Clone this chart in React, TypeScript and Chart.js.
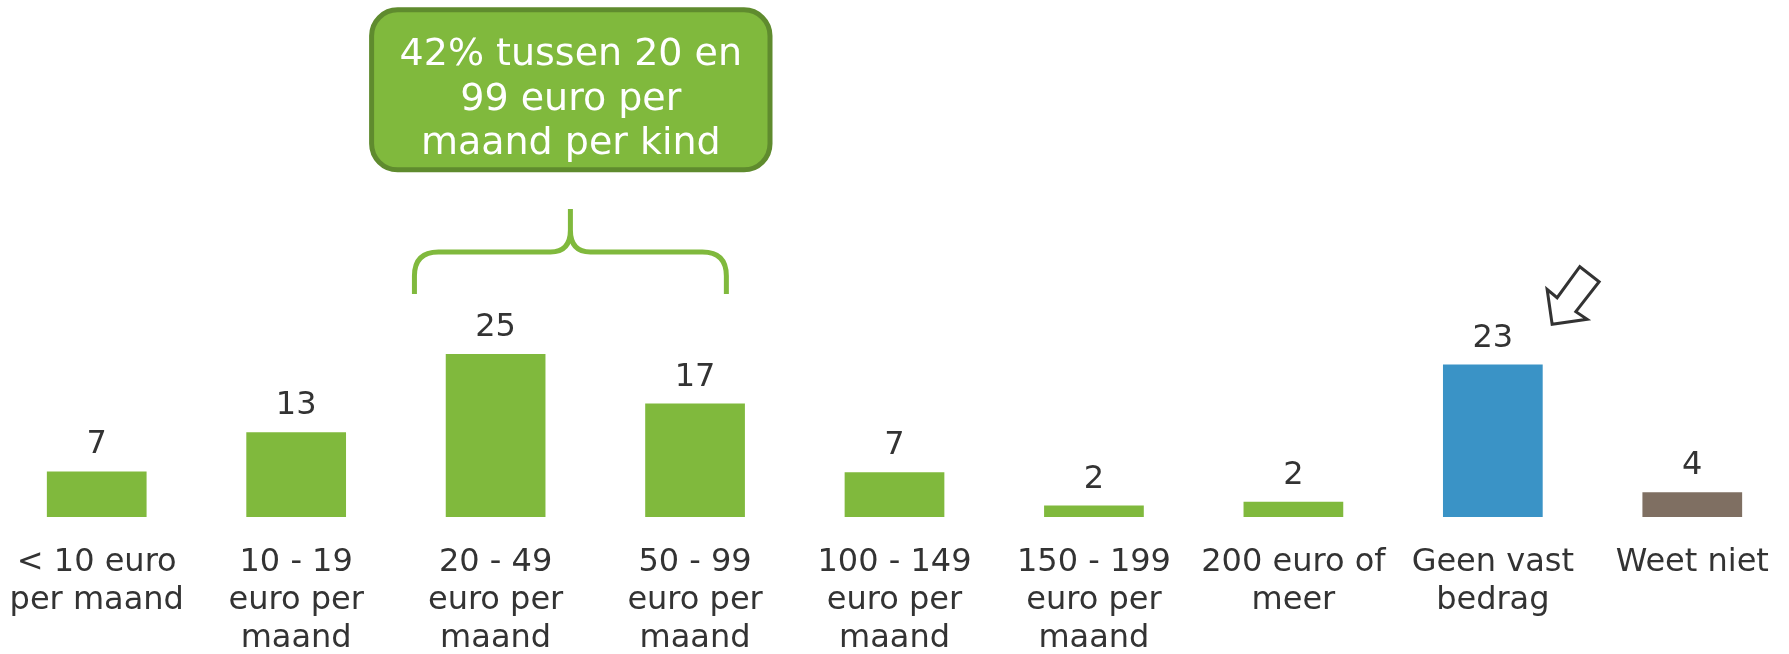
import React, { useEffect, useRef } from 'react';
import { Chart, registerables } from 'chart.js';

Chart.register(...registerables);

const categories: string[][] = [
  ['< 10 euro', 'per maand'],
  ['10 - 19', 'euro per', 'maand'],
  ['20 - 49', 'euro per', 'maand'],
  ['50 - 99', 'euro per', 'maand'],
  ['100 - 149', 'euro per', 'maand'],
  ['150 - 199', 'euro per', 'maand'],
  ['200 euro of', 'meer'],
  ['Geen vast', 'bedrag'],
  ['Weet niet'],
];

const values: number[] = [7, 13, 25, 17.4, 6.85, 1.75, 2.35, 23.4, 3.8];

const GREEN = '#80b93d';
const BLUE = '#3a93c6';
const BROWN = '#7f6f62';
const barColors: string[] = [GREEN, GREEN, GREEN, GREEN, GREEN, GREEN, GREEN, BLUE, BROWN];

const calloutLines: string[] = ['42% tussen 20 en', '99 euro per', 'maand per kind'];

const FONT = '"DejaVu Sans", Verdana, sans-serif';
const TEXT = '#333333';

const annotations = {
  id: 'annotations',
  afterDraw(chart: any) {
    const ctx = chart.ctx as CanvasRenderingContext2D;
    const xs = chart.scales.x;
    const meta = chart.getDatasetMeta(0);

    // value labels
    ctx.save();
    ctx.fillStyle = TEXT;
    ctx.font = `32px ${FONT}`;
    ctx.textAlign = 'center';
    ctx.textBaseline = 'alphabetic';
    meta.data.forEach((el: any, i: number) => {
      ctx.fillText(String(Math.round(values[i])), el.x, el.y - 18);
    });
    ctx.restore();

    const c2 = xs.getPixelForValue(2);
    const c3 = xs.getPixelForValue(3);
    const step = c3 - c2;
    const cx = c2 + 0.375 * step;

    // brace
    const half = 0.782 * step;
    const L = cx - half;
    const R = cx + half;
    const yTip = 209;
    const yH = 252;
    const yEnd = 294;
    const r = 24;
    ctx.save();
    ctx.strokeStyle = GREEN;
    ctx.lineWidth = 5;
    ctx.lineJoin = 'round';
    ctx.beginPath();
    ctx.moveTo(L, yEnd);
    ctx.lineTo(L, yH + r);
    ctx.quadraticCurveTo(L, yH, L + r, yH);
    ctx.lineTo(cx - 20, yH);
    ctx.quadraticCurveTo(cx, yH, cx, yH - 22);
    ctx.lineTo(cx, yTip);
    ctx.moveTo(cx, yH - 22);
    ctx.quadraticCurveTo(cx, yH, cx + 20, yH);
    ctx.lineTo(R - r, yH);
    ctx.quadraticCurveTo(R, yH, R, yH + r);
    ctx.lineTo(R, yEnd);
    ctx.stroke();
    ctx.restore();

    // callout box
    const bcx = cx + 0.4;
    const bw = 398.4;
    const bx = bcx - bw / 2;
    const by = 9.8;
    const bh = 160;
    const rr = 26;
    ctx.save();
    ctx.beginPath();
    ctx.moveTo(bx + rr, by);
    ctx.lineTo(bx + bw - rr, by);
    ctx.arcTo(bx + bw, by, bx + bw, by + rr, rr);
    ctx.lineTo(bx + bw, by + bh - rr);
    ctx.arcTo(bx + bw, by + bh, bx + bw - rr, by + bh, rr);
    ctx.lineTo(bx + rr, by + bh);
    ctx.arcTo(bx, by + bh, bx, by + bh - rr, rr);
    ctx.lineTo(bx, by + rr);
    ctx.arcTo(bx, by, bx + rr, by, rr);
    ctx.closePath();
    ctx.fillStyle = GREEN;
    ctx.fill();
    ctx.strokeStyle = '#5f8b2e';
    ctx.lineWidth = 5;
    ctx.stroke();
    ctx.fillStyle = '#ffffff';
    ctx.font = `38px ${FONT}`;
    ctx.textAlign = 'center';
    ctx.textBaseline = 'alphabetic';
    const baselines = [65, 110, 153.5];
    calloutLines.forEach((t, i) => ctx.fillText(t, bcx, baselines[i]));
    ctx.restore();

    // arrow pointing at "Geen vast bedrag"
    const c7 = xs.getPixelForValue(7);
    const pts: [number, number][] = [
      [87, 266.7],
      [106.3, 281.7],
      [83, 311.7],
      [94.3, 319.3],
      [59.3, 324.3],
      [54.3, 289.3],
      [64.3, 297.7],
    ];
    ctx.save();
    ctx.beginPath();
    pts.forEach(([dx, y], i) => {
      if (i === 0) ctx.moveTo(c7 + dx, y);
      else ctx.lineTo(c7 + dx, y);
    });
    ctx.closePath();
    ctx.fillStyle = '#ffffff';
    ctx.fill();
    ctx.strokeStyle = '#333333';
    ctx.lineWidth = 3;
    ctx.lineJoin = 'miter';
    ctx.stroke();
    ctx.restore();
  },
};

export default function App() {
  const ref = useRef<HTMLCanvasElement | null>(null);

  useEffect(() => {
    if (!ref.current) return;
    const chart = new Chart(ref.current, {
      type: 'bar',
      data: {
        labels: categories,
        datasets: [
          {
            data: values,
            backgroundColor: barColors,
            borderWidth: 0,
            barPercentage: 0.5,
            categoryPercentage: 1,
          },
        ],
      },
      options: {
        responsive: false,
        animation: false,
        layout: { padding: { top: 126, left: 0, right: 0, bottom: 0 } },
        plugins: {
          legend: { display: false },
          tooltip: { enabled: false },
          title: { display: false },
        },
        scales: {
          x: {
            grid: { display: false, drawTicks: false },
            border: { display: false },
            ticks: {
              color: TEXT,
              font: { family: FONT, size: 32, lineHeight: 1.2 },
              padding: 26,
              maxRotation: 0,
              minRotation: 0,
              autoSkip: false,
            },
            afterFit: (axis: any) => {
              axis.height = 137;
              axis.paddingLeft = 0;
              axis.paddingRight = 0;
            },
          },
          y: {
            display: false,
            min: 0,
            max: 60,
          },
        },
      },
      plugins: [annotations],
    });
    return () => chart.destroy();
  }, []);

  return (
    <div
      style={{
        position: 'fixed',
        left: 0,
        top: 0,
        width: 1789,
        height: 654,
        overflow: 'hidden',
        background: '#ffffff',
      }}
    >
      <div style={{ position: 'absolute', left: -3, top: 0, width: 1795, height: 654 }}>
        <canvas ref={ref} width={1795} height={654} style={{ display: 'block', width: 1795, height: 654 }} />
      </div>
    </div>
  );
}
